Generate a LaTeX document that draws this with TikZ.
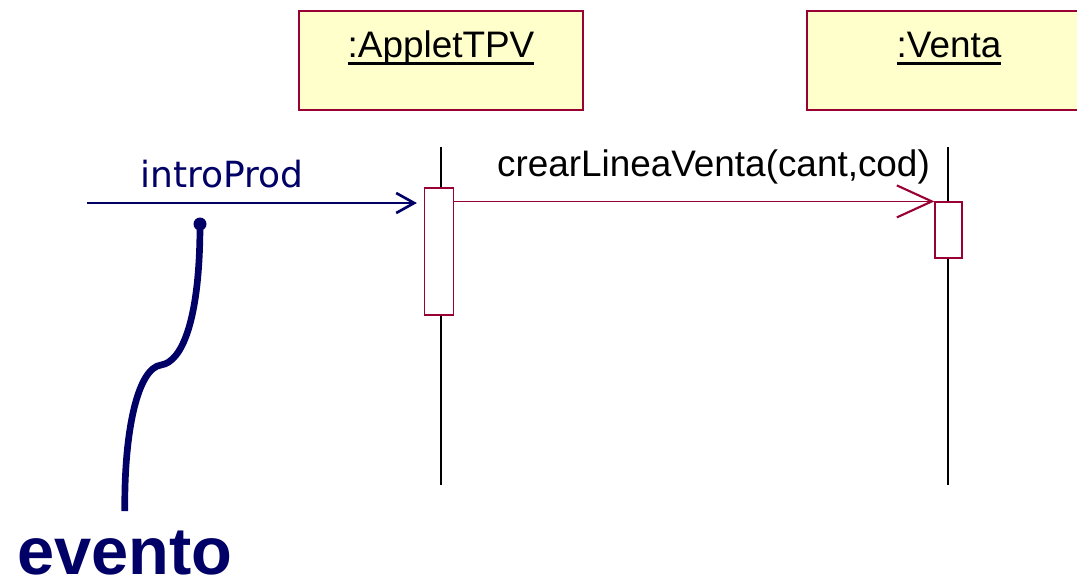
\documentclass[tikz,border=0pt]{standalone}
\usepackage{fontspec}
\setmainfont{Liberation Sans}
\newfontfamily\msgfont{DejaVu Sans}
\usetikzlibrary{arrows.meta,positioning}

\definecolor{rosered}{RGB}{153,0,51}
\definecolor{roseyellow}{RGB}{255,255,204}
\definecolor{evnavy}{RGB}{0,0,102}

\newcommand{\objname}[1]{\setbox0\hbox{#1}\rlap{\rule[-4.3pt]{\wd0}{1.6pt}}\box0}

\begin{document}
\begin{tikzpicture}[
    x=0.02cm, y=-0.02cm,
    object/.style={rectangle, draw=rosered, fill=roseyellow, line width=0.7pt, minimum width=5.68cm, minimum height=1.98cm, inner sep=0pt, font=\fontsize{21}{25}\selectfont, text height=0.4cm, text depth=0.54cm},
    activation/.style={rectangle, draw=rosered, fill=white, line width=0.7pt, inner sep=0pt},
    lifeline/.style={black, line width=0.6pt},
    msg/.style={-{Straight Barb[length=0.7cm, width=0.64cm, line width=1.2pt]}, rosered, line width=0.8pt},
    event/.style={-{Straight Barb[length=0.36cm, width=0.4cm]}, evnavy, line width=1.5pt},
    tail/.style={evnavy, line width=3.8pt}
]
\useasboundingbox (0,0) rectangle (1077,583);

% objects
\node[object] (applet) at (441,60.5) {\objname{:AppletTPV}};
\node[object] (venta) at (949,60.5) {\objname{:Venta}};

% lifelines
\coordinate (appletTop) at (441,147);
\coordinate (appletEnd) at (441,485);
\coordinate (ventaTop) at (948,147);
\coordinate (ventaEnd) at (948,485);
\draw[lifeline] (appletTop) -- (appletEnd);
\draw[lifeline] (ventaTop) -- (ventaEnd);

% activations
\node[activation, minimum width=0.58cm, minimum height=2.54cm] (actA) at (439,251.5) {};
\node[activation, minimum width=0.54cm, minimum height=1.12cm] (actV) at (948.5,230) {};

% messages
\coordinate (introSrc) at (87,203);
\draw[event, shorten >=0.14cm] (introSrc) -- node[pos=0.4, anchor=base, yshift=0.32cm, font=\msgfont\fontsize{20.5}{24}\selectfont] (introLbl) {introProd} (introSrc -| actA.west);
\draw[msg] (actA.east |- actV.north) -- node[pos=0.54, anchor=base, yshift=0.5cm, text=black, font=\fontsize{21}{25}\selectfont] (crearLbl) {crearLineaVenta(cant,cod)} (actV.north west);

% event note
\node[evnavy, anchor=base, inner sep=0pt, font=\bfseries\fontsize{38}{44}\selectfont] (evento) at (125,574) {evento};
\coordinate (evDot) at (200,224);
\fill[evnavy] (evDot) circle (0.13cm);
\draw[tail, shorten >=0.38cm] (evDot) .. controls (200,320) and (182,362) .. (161,365) .. controls (138,368) and (124,430) .. (evento.north);

\end{tikzpicture}
\end{document}
